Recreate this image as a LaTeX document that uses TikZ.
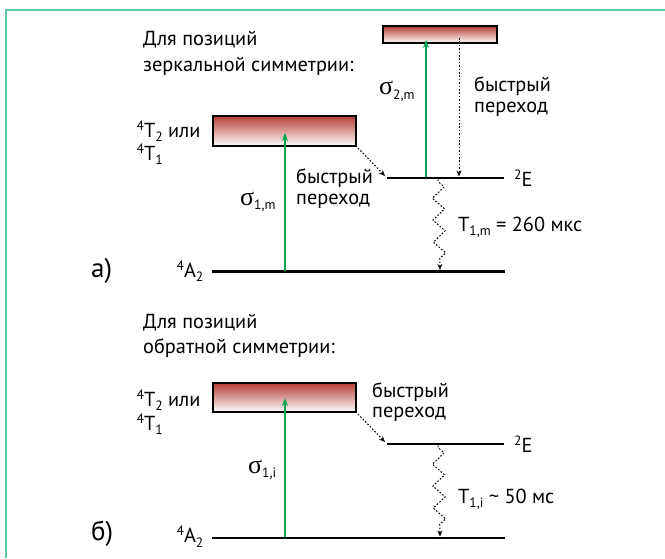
\documentclass[tikz,border=0pt]{standalone}
\usepackage{fontspec}
\setmainfont{PT Sans}
\newfontfamily\grk{Liberation Serif}
\usetikzlibrary{arrows.meta,decorations.pathmorphing}
\definecolor{framecol}{RGB}{95,200,165}
\definecolor{grn}{RGB}{0,166,81}
\definecolor{boxtop}{RGB}{180,62,52}
\newcommand{\mysup}[1]{\raisebox{7pt}{\fontsize{13.5}{13.5}\selectfont #1}}
\newcommand{\mysub}[1]{\raisebox{-4.5pt}{\fontsize{13.5}{13.5}\selectfont #1}}
\newcommand{\Sig}{{\grk\fontsize{26}{26}\selectfont σ}}
\tikzset{
  txt/.style={inner sep=0pt, anchor=base west, font=\fontsize{20.3}{24}\selectfont},
  bigtxt/.style={inner sep=0pt, anchor=base west, font=\fontsize{27}{30}\selectfont},
  level/.style={line width=2.6pt},
  ebox/.style={draw, line width=2.4pt, top color=boxtop, bottom color=white, inner sep=0pt},
  garrow/.style={draw=grn, line width=1.2pt, -{Stealth[length=8pt,width=6pt]}},
  darrow/.style={line width=1pt, dash pattern=on 1.6pt off 1.8pt, -{Stealth[length=6pt,width=5pt]}},
  wavy/.style={line width=1pt, dash pattern=on 1.6pt off 1.8pt, -{Stealth[length=6pt,width=5pt]},
    decorate, decoration={zigzag, amplitude=6pt, segment length=22pt, pre length=2pt, post length=9pt}}
}
\begin{document}
\begin{tikzpicture}[x=1pt,y=-1pt]
\useasboundingbox (0,0) rectangle (665,558);
% frame
\coordinate (fr1) at (6,558);
\coordinate (fr2) at (6,10);
\coordinate (fr3) at (665,10);
\draw[framecol, line width=2.5pt] (fr1) -- (fr2) -- (fr3);

% ---------------- panel a ----------------
\node[txt] (ha1) at (143,45) {Для позиций};
\node[txt] (ha2) at (143,71) {зеркальной симметрии:};

\node[ebox, minimum width=114pt, minimum height=17pt] (Bta) at (440,34.5) {};
\node[ebox, minimum width=143pt, minimum height=30pt] (Bma) at (284.5,131) {};

\coordinate (EaL) at (387,178);
\coordinate (EaR) at (504,178);
\coordinate (AaL) at (212,271.5);
\coordinate (AaR) at (505,271.5);
\draw[level] (EaL) -- (EaR);
\draw[level] (AaL) -- (AaR);

\coordinate (s1a0) at (285,270.5);
\coordinate (s1a1) at (285,133);
\coordinate (s2a0) at (426,177);
\coordinate (s2a1) at (426,40);
\draw[garrow] (s1a0) -- (s1a1);
\draw[garrow] (s2a0) -- (s2a1);

\coordinate (dta0) at (459,38);
\coordinate (dta1) at (459,176.5);
\draw[darrow] (dta0) -- (dta1);
\coordinate (dma0) at (358,148);
\coordinate (dma1) at (385,176);
\draw[darrow] (dma0) -- (dma1);

\coordinate (wa0) at (438,179.5);
\coordinate (wa1) at (440,270);
\draw[wavy] (wa0) -- (wa1);

\node[txt] (Ta2) at (136.5,137) {\mysup{4}T\mysub{2} или};
\node[txt] (Ta1) at (136.5,160) {\mysup{4}T\mysub{1}};
\node[txt] (fa1) at (474,91) {быстрый};
\node[txt] (fa2) at (474,112) {переход};
\node[txt] (ga1) at (296,183) {быстрый};
\node[txt] (ga2) at (296,204) {переход};
\node[txt] (sg2a) at (379,94.5) {\Sig\mysub{2,m}};
\node[txt] (sg1a) at (240,205) {\Sig\mysub{1,m}};
\node[txt] (Ea) at (514,186) {\mysup{2}E};
\node[txt] (Tma) at (458,231) {T\mysub{1,m} = 260 мкс};
\node[txt] (A2a) at (176.5,277) {\mysup{4}A\mysub{2}};
\node[bigtxt] (la) at (91,277) {а)};

% ---------------- panel b ----------------
\node[txt] (hb1) at (143,328) {Для позиций};
\node[txt] (hb2) at (143,353) {обратной симметрии:};

\node[ebox, minimum width=143pt, minimum height=29pt] (Bmb) at (284.5,397.5) {};

\coordinate (EbL) at (387,444);
\coordinate (EbR) at (504,444);
\coordinate (AbL) at (212,538);
\coordinate (AbR) at (505,538);
\draw[level] (EbL) -- (EbR);
\draw[level] (AbL) -- (AbR);

\coordinate (s1b0) at (285,537);
\coordinate (s1b1) at (285,398);
\draw[garrow] (s1b0) -- (s1b1);

\coordinate (dmb0) at (358,414);
\coordinate (dmb1) at (385,442);
\draw[darrow] (dmb0) -- (dmb1);

\coordinate (wb0) at (438,445.5);
\coordinate (wb1) at (440,536.5);
\draw[wavy] (wb0) -- (wb1);

\node[txt] (Tb2) at (136.5,406) {\mysup{4}T\mysub{2} или};
\node[txt] (Tb1) at (136.5,430) {\mysup{4}T\mysub{1}};
\node[txt] (gb1) at (372,397) {быстрый};
\node[txt] (gb2) at (372,417) {переход};
\node[txt] (sg1b) at (248,473) {\Sig\mysub{1,i}};
\node[txt] (Eb) at (514,452) {\mysup{2}E};
\node[txt] (Tmb) at (458,503) {T\mysub{1,i} \textasciitilde{} 50 мс};
\node[txt] (A2b) at (176.5,542.5) {\mysup{4}A\mysub{2}};
\node[bigtxt] (lb) at (91,540) {б)};
\end{tikzpicture}
\end{document}
